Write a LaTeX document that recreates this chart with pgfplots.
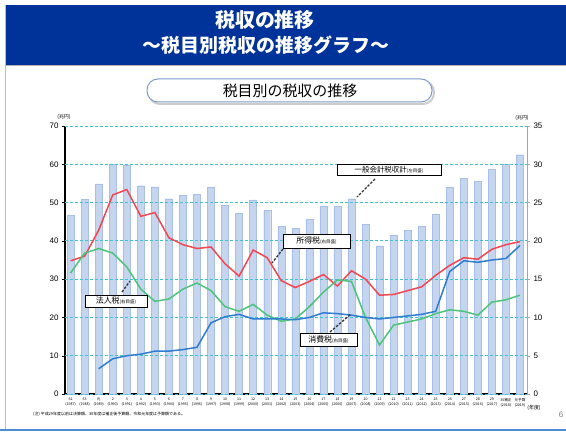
\documentclass[border=0pt]{standalone}
\usepackage{pgfplots}
\pgfplotsset{compat=1.18}
\usepackage{fontspec}
\setmainfont{Liberation Sans}
\newfontfamily\cjk{Noto Sans CJK JP}
\definecolor{hdr}{HTML}{003399}
\definecolor{barfill}{HTML}{C5D5EE}
\definecolor{baredge}{HTML}{A8C0E8}
\definecolor{gridc}{HTML}{40C4CC}
\definecolor{redl}{HTML}{F24652}
\definecolor{greenl}{HTML}{4CC47A}
\definecolor{bluel}{HTML}{2E7DD1}
\definecolor{boxc}{HTML}{7F9CC8}
\definecolor{botline}{HTML}{4A90D0}
\begin{document}
\begin{tikzpicture}
\fill[white] (0,0) rectangle (566bp,434bp);
% bars (left axis)
\begin{axis}[name=a, at={(65bp,40bp)}, anchor=south west, width=462bp, height=268bp, scale only axis,
  xmin=-0.4, xmax=32.5, ymin=0, ymax=70,
  axis y line*=left, axis x line*=bottom,
  axis line style={black, line width=1.2bp, -},
  ytick={0,10,...,70},
  yticklabel style={font=\fontsize{8}{9}\selectfont, /pgf/number format/assume math mode=true},
  y tick style={black}, tick align=outside, major tick length=3bp,
  xtick={0,...,32}, x tick style={draw=none},
  xticklabel style={align=center, font=\cjk\fontsize{3.6}{5}\selectfont, inner sep=1bp},
  xticklabels={{62\\(1987)},{63\\(1988)},{元\\(1989)},{2\\(1990)},{3\\(1991)},{4\\(1992)},{5\\(1993)},{6\\(1994)},{7\\(1995)},{8\\(1996)},{9\\(1997)},{10\\(1998)},{11\\(1999)},{12\\(2000)},{13\\(2001)},{14\\(2002)},{15\\(2003)},{16\\(2004)},{17\\(2005)},{18\\(2006)},{19\\(2007)},{20\\(2008)},{21\\(2009)},{22\\(2010)},{23\\(2011)},{24\\(2012)},{25\\(2013)},{26\\(2014)},{27\\(2015)},{28\\(2016)},{29\\(2017)},{30補正\\(2018)},{元予算\\(2019)}},
  clip=false]
\addplot[ybar, bar width=7bp, fill=barfill, draw=baredge] coordinates {
(0,46.8)(1,50.8)(2,54.9)(3,60.1)(4,59.8)(5,54.4)(6,54.1)(7,51.0)(8,51.9)(9,52.1)
(10,53.9)(11,49.4)(12,47.2)(13,50.7)(14,47.9)(15,43.8)(16,43.3)(17,45.6)(18,49.1)(19,49.1)
(20,51.0)(21,44.3)(22,38.7)(23,41.5)(24,42.8)(25,43.9)(26,47.0)(27,54.0)(28,56.3)(29,55.5)
(30,58.8)(31,59.9)(32,62.5)};
\end{axis}
% lines (right axis)
\begin{axis}[at={(65bp,40bp)}, anchor=south west, width=462bp, height=268bp, scale only axis,
  xmin=-0.4, xmax=32.5, ymin=0, ymax=35,
  axis y line*=right, axis x line=none,
  axis line style={gray!70, line width=1bp, -},
  ytick={0,5,...,35},
  yticklabel style={font=\fontsize{8}{9}\selectfont, /pgf/number format/assume math mode=true},
  y tick style={gray!70}, tick align=outside, major tick length=3bp,
  ymajorgrids, grid style={gridc, dashed, line width=0.9bp, dash pattern=on 3bp off 2bp},
  clip=false]
\addplot[redl, line width=1.5bp] coordinates {
(0,17.4)(1,18.0)(2,21.4)(3,26.0)(4,26.7)(5,23.2)(6,23.7)(7,20.4)(8,19.5)(9,19.0)
(10,19.2)(11,17.0)(12,15.4)(13,18.8)(14,17.8)(15,14.8)(16,13.9)(17,14.7)(18,15.6)(19,14.1)
(20,16.1)(21,15.0)(22,12.9)(23,13.0)(24,13.5)(25,14.0)(26,15.5)(27,16.8)(28,17.8)(29,17.6)
(30,18.9)(31,19.5)(32,19.9)};
\addplot[greenl, line width=1.5bp] coordinates {
(0,15.8)(1,18.4)(2,19.0)(3,18.4)(4,16.6)(5,13.7)(6,12.1)(7,12.4)(8,13.7)(9,14.5)
(10,13.5)(11,11.4)(12,10.8)(13,11.7)(14,10.3)(15,9.5)(16,9.8)(17,11.4)(18,13.3)(19,14.9)
(20,14.7)(21,10.0)(22,6.4)(23,9.0)(24,9.4)(25,9.8)(26,10.5)(27,11.0)(28,10.8)(29,10.3)
(30,12.0)(31,12.3)(32,12.9)};
\addplot[bluel, line width=1.5bp] coordinates {
(2,3.3)(3,4.6)(4,5.0)(5,5.2)(6,5.6)(7,5.6)(8,5.8)(9,6.1)
(10,9.3)(11,10.1)(12,10.4)(13,9.8)(14,9.8)(15,9.8)(16,9.7)(17,10.0)(18,10.6)(19,10.5)
(20,10.3)(21,10.0)(22,9.8)(23,10.0)(24,10.2)(25,10.4)(26,10.8)(27,16.0)(28,17.4)(29,17.2)
(30,17.5)(31,17.7)(32,19.4)};
\end{axis}
\begin{scope}[x=1bp,y=1bp]
% header
\fill[hdr] (5,369) rectangle (566,429);
\draw[gray!50] (5,429) -- (5,4);
\draw[gray!60,line width=1bp] (5,368.5) -- (566,368.5);
\node[white,font=\cjk\bfseries\fontsize{20}{22}\selectfont] at (265,414) {税収の推移};
\node[white,font=\cjk\bfseries\fontsize{19}{22}\selectfont] at (266,389) {～税目別税収の推移グラフ～};
\draw[line width=2bp, botline] (0,4) -- (566,4);
% subtitle box
\draw[gray!40,line width=2bp,rounded corners=11bp] (149,330) rectangle (434,353);
\draw[boxc,fill=white,line width=1bp,rounded corners=11bp] (147,332) rectangle (432,355);
\node[font=\cjk\fontsize{15}{17}\selectfont] at (290,343.5) {税目別の税収の推移};
% units
\node[font=\cjk\fontsize{5}{6}\selectfont] at (64,317) {(兆円)};
\node[font=\cjk\fontsize{5}{6}\selectfont] at (522,316) {(兆円)};
\node[font=\cjk\fontsize{5}{6}\selectfont] at (534,26) {(年度)};
\node[anchor=west, font=\cjk\fontsize{4}{5}\selectfont, inner sep=0] at (33,20) {(注) 平成29年度以前は決算額、30年度は補正後予算額、令和元年度は予算額である。};
\node[gray, font=\fontsize{8}{9}\selectfont] at (561,19) {6};
% annotations
\tikzset{ann/.style={draw=black, fill=white, line width=0.9bp, inner sep=0},
         lead/.style={black!80, line width=1.3bp, dash pattern=on 2.5bp off 1.5bp}}
\draw[lead] (375,255) -- (357,237);
\draw[ann] (337,259) rectangle (441,270);
\node[font=\cjk\fontsize{7.5}{8}\selectfont] at (389,264.5) {一般会計税収計{\fontsize{4.5}{5}\selectfont(左目盛)}};
\draw[lead] (283,185) -- (272,171);
\draw[ann] (283,186) rectangle (350,200);
\node[font=\cjk\fontsize{8}{9}\selectfont] at (316.5,193) {所得税{\fontsize{4.5}{5}\selectfont(右目盛)}};
\draw[lead] (122,142) -- (130,153);
\draw[ann] (85,127) rectangle (147,139);
\node[font=\cjk\fontsize{8}{9}\selectfont] at (116,133) {法人税{\fontsize{4.5}{5}\selectfont(右目盛)}};
\draw[lead] (330,102) -- (351,120);
\draw[ann] (300,88) rectangle (357,101);
\node[font=\cjk\fontsize{8}{9}\selectfont] at (328.5,94.5) {消費税{\fontsize{4.5}{5}\selectfont(右目盛)}};
\end{scope}
\pgfresetboundingbox
\useasboundingbox (0,0) rectangle (566bp,434bp);
\end{tikzpicture}
\end{document}
